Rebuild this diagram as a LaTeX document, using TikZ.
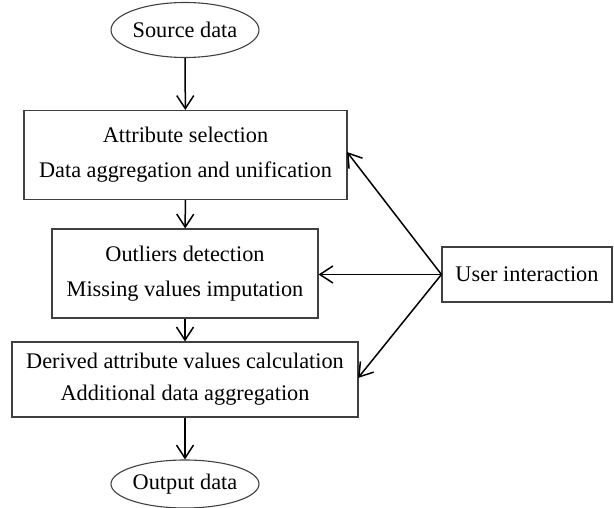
\documentclass[tikz,border=0pt]{standalone}
\usepackage{fontspec}
\setmainfont{Liberation Serif}
\usetikzlibrary{shapes.geometric,arrows.meta}
\begin{document}
\begin{tikzpicture}[x=1pt,y=-1pt,
  every node/.style={font=\fontsize{22.3}{35}\selectfont, align=center, inner sep=0pt},
  box/.style={draw=black!75, line width=1.1pt},
  oval/.style={draw=black!75, line width=1.1pt, ellipse},
  conn/.style={line width=1.5pt, -{Straight Barb[length=13pt,width=17pt,line width=1.5pt]}}]
\useasboundingbox (0,0) rectangle (614,508);
\node[oval, minimum width=146pt, minimum height=55pt] (src) at (185,30) {Source data};
\node[box, minimum width=323pt, minimum height=89pt] (b1) at (185.5,155) {Attribute selection\\Data aggregation and unification};
\node[box, minimum width=266pt, minimum height=89pt] (b2) at (185,273.5) {Outliers detection\\Missing values imputation};
\node[box, minimum width=346pt, minimum height=75pt, font=\fontsize{22.3}{32}\selectfont] (b3) at (185,379.5) {Derived attribute values calculation\\Additional data aggregation};
\node[oval, minimum width=146pt, minimum height=48pt] (out) at (185,484) {Output data};
\node[box, minimum width=170pt, minimum height=55pt] (ui) at (527,274.5) {User interaction};
\coordinate (uiw) at (ui.west);
\draw[conn] (src) -- (b1);
\draw[conn] (b1) -- (b2);
\draw[conn] (b2) -- (b3);
\draw[conn] (b3) -- (out);
\draw[conn] (uiw) -- (347,152);
\draw[conn] (uiw) -- (b2.east |- uiw);
\draw[conn] (uiw) -- (358,378);
\end{tikzpicture}
\end{document}
